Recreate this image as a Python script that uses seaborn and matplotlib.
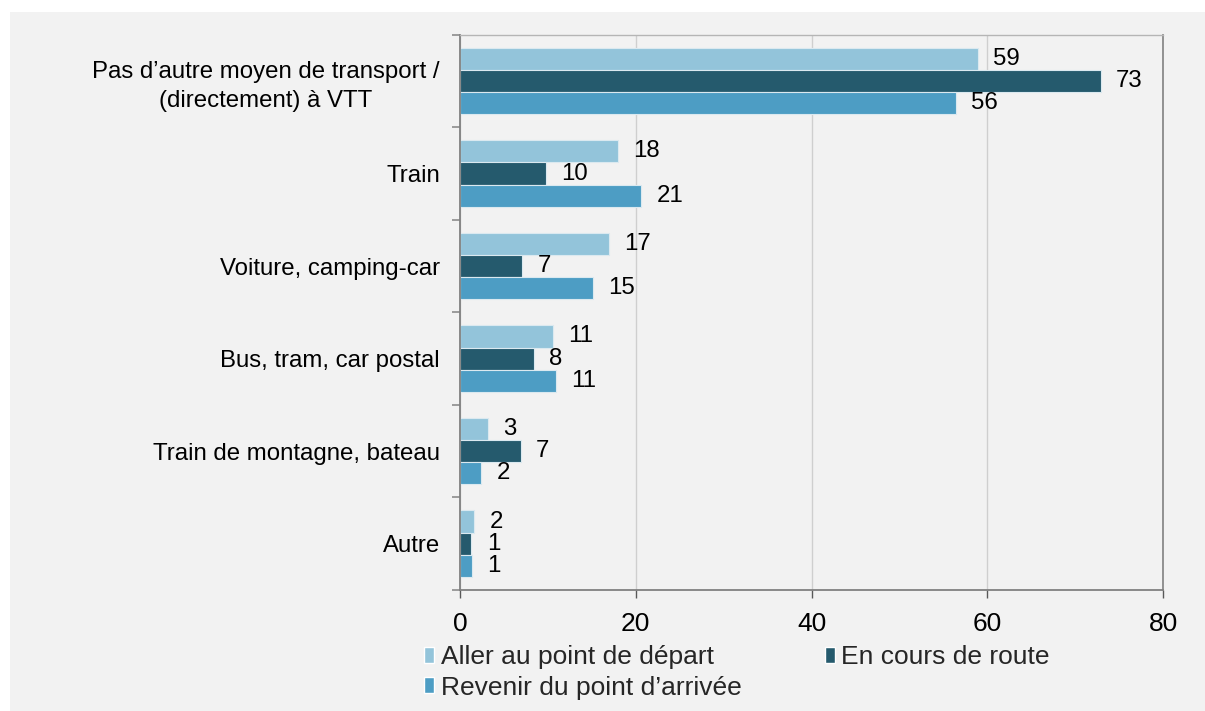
import matplotlib
matplotlib.use("Agg")
import matplotlib.pyplot as plt
from matplotlib.patches import Rectangle, Patch
import seaborn as sns
import pandas as pd
import numpy as np

categories = [
    "Pas d\u2019autre moyen de transport /\n(directement) \u00e0 VTT",
    "Train",
    "Voiture, camping-car",
    "Bus, tram, car postal",
    "Train de montagne, bateau",
    "Autre",
]
series = ["Aller au point de d\u00e9part", "En cours de route", "Revenir du point d\u2019arriv\u00e9e"]
aller = [58.9, 18.0, 16.9, 10.6, 3.2, 1.6]
en_cours = [72.9, 9.8, 7.1, 8.4, 6.9, 1.3]
revenir = [56.4, 20.6, 15.1, 10.9, 2.4, 1.4]
colors = ["#93c4da", "#255a6d", "#4d9dc4"]
x_ticks = [0, 20, 40, 60, 80]

sns.set_theme(style="white")
plt.rcParams["font.family"] = ["Liberation Sans", "DejaVu Sans"]
FS_CAT = 17.3
FS_BAR = 17.3
FS_BIG = 19

rows = []
for s, vals in zip(series, [aller, en_cours, revenir]):
    for c, v in zip(categories, vals):
        rows.append({"cat": c, "val": v, "series": s})
df = pd.DataFrame(rows)

fig = plt.figure(figsize=(12.05, 7.11), dpi=100)
fig.patch.set_facecolor("white")
fig.add_artist(Rectangle((10 / 1205, 0), 1, (711 - 12) / 711, transform=fig.transFigure,
                         facecolor="#f2f2f2", edgecolor="none", zorder=-10))
ax = fig.add_axes([460 / 1205, 1 - 590 / 711, (1163 - 460) / 1205, (590 - 34.7) / 711])
ax.set_facecolor("#f2f2f2")

sns.barplot(data=df, y="cat", x="val", hue="series", orient="h", order=categories,
            hue_order=series, palette=colors, saturation=1, width=0.72, dodge=True,
            edgecolor="#dbe9f0", linewidth=0.8, legend=False, errorbar=None, ax=ax)

for cont in ax.containers:
    ax.bar_label(cont, fmt="{:.0f}", padding=11, fontsize=FS_BAR, color="#000000")

ax.set_xlim(0, 80)
ax.set_xticks(x_ticks)
ax.set_xticklabels([str(t) for t in x_ticks], fontsize=FS_BIG, color="#000000")
ax.set_ylim(len(categories) - 0.5, -0.5)
ax.set_xlabel("")
ax.set_ylabel("")

ax.grid(axis="x", color="#cfcfcf", linewidth=1)
ax.set_axisbelow(True)

ax.set_yticks(range(len(categories)))
ylabels = ax.set_yticklabels(categories, fontsize=FS_CAT, color="#000000")
for t in ylabels:
    t.set_multialignment("center")
    t.set_linespacing(1.38)
ax.tick_params(axis="y", which="major", length=0, pad=14.5)
ax.set_yticks(np.arange(-0.5, len(categories), 1), minor=True)
ax.tick_params(axis="y", which="minor", length=6, width=1.2, color="#8c8c8c", left=True)
ax.tick_params(axis="x", which="major", length=6, width=1, color="#595959", pad=10,
               bottom=True)

for side in ["left", "bottom"]:
    ax.spines[side].set_color("#808080")
    ax.spines[side].set_linewidth(1.3)
ax.spines["top"].set_color("#b5b5b5")
ax.spines["top"].set_linewidth(1)
ax.spines["right"].set_color("#8a8a8a")
ax.spines["right"].set_linewidth(1.3)

handles = [Patch(facecolor=colors[0]), Patch(facecolor=colors[2]), Patch(facecolor=colors[1])]
labels = [series[0], series[2], series[1]]
fig.legend(handles, labels, loc="upper left", bbox_to_anchor=(424 / 1205, 1 - 645 / 711),
           ncol=2, frameon=False, fontsize=FS_BIG, borderpad=0, borderaxespad=0,
           handlelength=0.38, handleheight=0.55, handletextpad=0.25, columnspacing=3.15,
           labelspacing=0.25)

fig.savefig("out.png", dpi=100, facecolor="white")
